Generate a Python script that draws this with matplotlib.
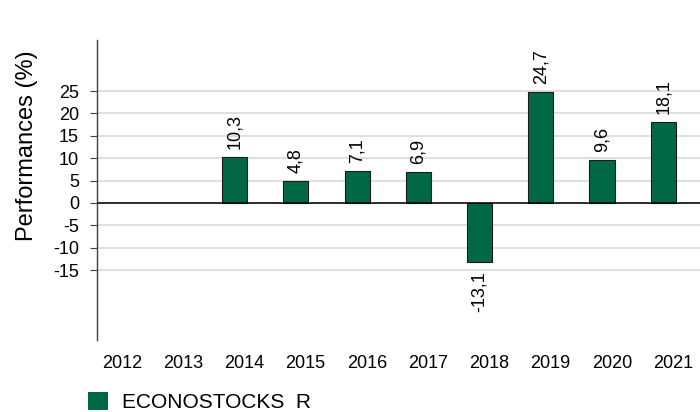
import numpy as np
import matplotlib
matplotlib.use("Agg")
import matplotlib.pyplot as plt
from matplotlib.patches import Patch

plt.rcParams['font.family'] = ['Liberation Sans', 'DejaVu Sans']

years = ['2012', '2013', '2014', '2015', '2016', '2017', '2018', '2019', '2020', '2021']
perf = [np.nan, np.nan, 10.3, 4.8, 7.1, 6.9, -13.1, 24.7, 9.6, 18.1]
series_name = 'ECONOSTOCKS  R'

GREEN = '#006747'

fig = plt.figure(figsize=(7, 4.12), dpi=100)
ax = fig.add_axes([97 / 700, 72 / 412, 603 / 700, 300 / 412])

x = np.arange(len(years))
vals = np.array(perf, dtype=float)
has = ~np.isnan(vals)
ax.bar(x[has], vals[has], width=0.41, color=GREEN, edgecolor='#1a1a1a',
       linewidth=0.8, zorder=3)

# value labels, rotated, comma decimal
for xi, v in zip(x[has], vals[has]):
    txt = f"{v:.1f}".replace('.', ',')
    if v >= 0:
        ax.annotate(txt, (xi, v), xytext=(0, 6), textcoords='offset points',
                    rotation=90, ha='center', va='bottom', fontsize=13)
    else:
        ax.annotate(txt, (xi, v), xytext=(0, -7), textcoords='offset points',
                    rotation=90, ha='center', va='top', fontsize=13)

ax.set_xlim(-0.248, 9.60)
ax.set_ylim(-30.6, 36.4)

ax.set_yticks(np.arange(-15, 26, 5))
ax.set_yticklabels([str(t) for t in range(-15, 26, 5)], fontsize=13)
ax.yaxis.grid(True, color='#d9d9d9', linewidth=1.2, zorder=0)
ax.set_axisbelow(True)
ax.axhline(0, color='black', linewidth=1.1, zorder=4)

ax.set_xticks(x + 0.16)
ax.set_xticklabels(years, fontsize=13)
ax.tick_params(axis='x', length=0, pad=11)
ax.tick_params(axis='y', length=5, width=0.8, color='#404040', pad=8)

for s in ['top', 'right', 'bottom']:
    ax.spines[s].set_visible(False)
ax.spines['left'].set_color('#404040')
ax.spines['left'].set_linewidth(1.0)

ax.set_ylabel('Performances (%)', fontsize=17)
ax.yaxis.set_label_coords(-0.098, 0.647)

fig.legend(handles=[Patch(facecolor=GREEN, edgecolor='none', label=series_name)],
           loc='center left', bbox_to_anchor=(88 / 700, 10 / 412),
           bbox_transform=fig.transFigure, frameon=False, fontsize=15,
           handlelength=0.95, handleheight=0.95, handletextpad=0.7,
           borderpad=0, borderaxespad=0)

fig.savefig('out.png', dpi=100)
